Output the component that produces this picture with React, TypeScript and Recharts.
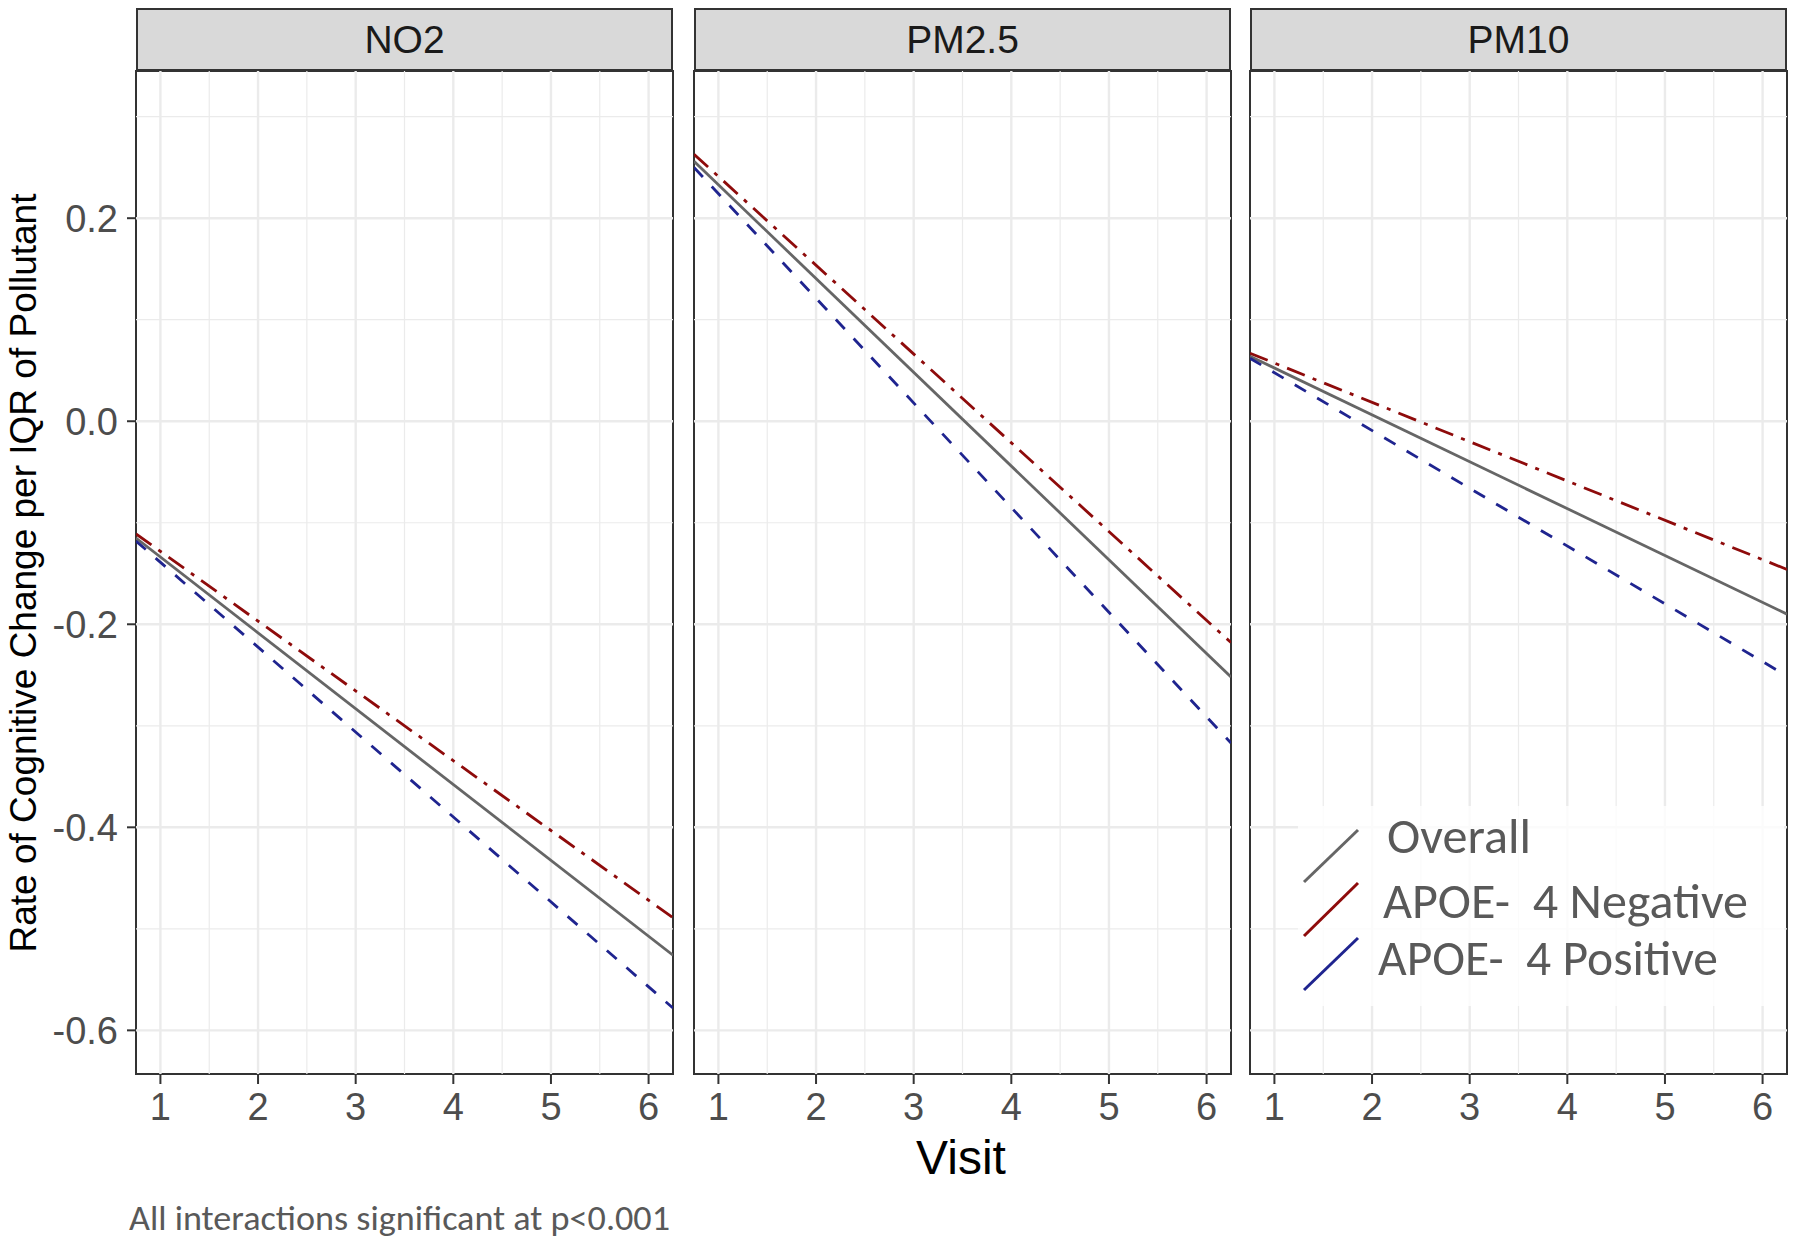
import React from 'react';
import { LineChart, Line, XAxis, YAxis, ReferenceLine, ReferenceArea } from 'recharts';

// x positions where each fitted line meets the panel edges
const visitEdges = [0.75, 6.25];
const visitTicks = [1, 2, 3, 4, 5, 6];
const visitMinor = [1.5, 2.5, 3.5, 4.5, 5.5];
const rateTicks = [-0.6, -0.4, -0.2, 0.0, 0.2];
const rateMinor = [-0.5, -0.3, -0.1, 0.1, 0.3];

const pollutants = ['NO2', 'PM2.5', 'PM10'];

const no2Overall = [-0.115, -0.526];
const no2Negative = [-0.111, -0.489];
const no2Positive = [-0.118, -0.578];

const pm25Overall = [0.256, -0.252];
const pm25Negative = [0.263, -0.218];
const pm25Positive = [0.25, -0.317];

const pm10Overall = [0.064, -0.19];
const pm10Negative = [0.067, -0.146];
const pm10Positive = [0.062, -0.251];

const legendLabels = ['Overall', 'APOE-  4 Negative', 'APOE-  4 Positive'];

const X_DOMAIN: [number, number] = [0.75, 6.25];
const Y_DOMAIN: [number, number] = [-0.643, 0.345];

const PANEL_LEFT = [136, 694, 1250];
const PANEL_W = 537;
const PANEL_TOP = 71;
const PANEL_H = 1003;
const STRIP_TOP = 8;

const GG_FONT = "'Liberation Sans', Arial, Helvetica, sans-serif";
const NOTE_FONT = "Carlito, Lato, 'Open Sans', sans-serif";

const COL_OVERALL = '#666666';
const COL_NEG = '#8E0B0B';
const COL_POS = '#1F248F';
const GRID = '#EBEBEB';

const seriesByPanel = [
  [no2Overall, no2Negative, no2Positive],
  [pm25Overall, pm25Negative, pm25Positive],
  [pm10Overall, pm10Negative, pm10Positive],
];

const fmt = (v: number) => v.toFixed(1);

function Panel({ idx }: { idx: number }) {
  const [ov, neg, pos] = seriesByPanel[idx];
  const data = visitEdges.map((v, i) => ({ visit: v, overall: ov[i], negative: neg[i], positive: pos[i] }));
  const showY = idx === 0;
  const yW = showY ? 136 : 0;
  const left = PANEL_LEFT[idx] - yW - 2;
  return (
    <div style={{ position: 'absolute', left, top: PANEL_TOP - 2 }}>
      <LineChart
        width={2 + yW + PANEL_W + 2}
        height={2 + PANEL_H + 75}
        data={data}
        margin={{ top: 2, right: 2, bottom: 0, left: 2 }}
      >
        <XAxis
          dataKey="visit"
          type="number"
          domain={X_DOMAIN}
          ticks={visitTicks}
          allowDataOverflow
          interval={0}
          height={75}
          axisLine={false}
          tickSize={10}
          tickMargin={9}
          tickLine={{ stroke: '#333333', strokeWidth: 2 }}
          tick={{ fontSize: 38, fill: '#4D4D4D', fontFamily: GG_FONT }}
        />
        <YAxis
          type="number"
          domain={Y_DOMAIN}
          ticks={rateTicks}
          allowDataOverflow
          interval={0}
          hide={!showY}
          width={yW}
          axisLine={false}
          tickSize={9}
          tickMargin={9}
          tickFormatter={fmt}
          tickLine={{ stroke: '#333333', strokeWidth: 2 }}
          tick={{ fontSize: 38, fill: '#4D4D4D', fontFamily: GG_FONT }}
        />
        {rateMinor.map((v) => (
          <ReferenceLine key={'hm' + v} y={v} stroke={GRID} strokeWidth={1.2} />
        ))}
        {visitMinor.map((v) => (
          <ReferenceLine key={'vm' + v} x={v} stroke={GRID} strokeWidth={1.2} />
        ))}
        {rateTicks.map((v) => (
          <ReferenceLine key={'h' + v} y={v} stroke={GRID} strokeWidth={2.4} />
        ))}
        {visitTicks.map((v) => (
          <ReferenceLine key={'v' + v} x={v} stroke={GRID} strokeWidth={2.4} />
        ))}
        <Line dataKey="overall" stroke={COL_OVERALL} strokeWidth={2.8} dot={false} isAnimationActive={false} />
        <Line
          dataKey="negative"
          stroke={COL_NEG}
          strokeWidth={2.8}
          strokeDasharray="19 8.5 4 8.5"
          dot={false}
          isAnimationActive={false}
        />
        <Line
          dataKey="positive"
          stroke={COL_POS}
          strokeWidth={2.8}
          strokeDasharray="13 13"
          dot={false}
          isAnimationActive={false}
        />
        <ReferenceArea
          x1={X_DOMAIN[0]}
          x2={X_DOMAIN[1]}
          y1={Y_DOMAIN[0]}
          y2={Y_DOMAIN[1]}
          fill="none"
          fillOpacity={0}
          stroke="#333333"
          strokeWidth={2}
        />
      </LineChart>
    </div>
  );
}

export default function App() {
  return (
    <div style={{ position: 'absolute', left: 0, top: 0, width: 1800, height: 1243, background: '#fff' }}>
      {pollutants.map((name, i) => (
        <div
          key={name}
          style={{
            position: 'absolute',
            left: PANEL_LEFT[i],
            top: STRIP_TOP,
            width: PANEL_W,
            height: PANEL_TOP - STRIP_TOP,
            background: '#D9D9D9',
            border: '2px solid #333333',
            boxSizing: 'border-box',
            display: 'flex',
            alignItems: 'center',
            justifyContent: 'center',
            fontFamily: GG_FONT,
            fontSize: 39,
            color: '#1A1A1A',
          }}
        >
          {name}
        </div>
      ))}
      {pollutants.map((name, i) => (
        <Panel key={name} idx={i} />
      ))}
      <svg
        width={1800}
        height={1243}
        style={{ position: 'absolute', left: 0, top: 0, pointerEvents: 'none' }}
      >
        <text
          transform="translate(36,573) rotate(-90)"
          textAnchor="middle"
          fontFamily={GG_FONT}
          fontSize={37}
          fill="#000"
        >
          Rate of Cognitive Change per IQR of Pollutant
        </text>
        <text x={961} y={1174} textAnchor="middle" fontFamily={GG_FONT} fontSize={48} fill="#000">
          Visit
        </text>
        <text
          x={129}
          y={1230}
          fontFamily={NOTE_FONT}
          fontSize={34}
          fill="#595959"
          textLength={541}
          lengthAdjust="spacingAndGlyphs"
        >
          All interactions significant at p&lt;0.001
        </text>
        {/* pasted legend */}
        <rect x={1298} y={806} width={486} height={200} fill="#fff" fillOpacity={0.8} />
        <line x1={1304} y1={882} x2={1358} y2={830} stroke={COL_OVERALL} strokeWidth={3} />
        <line x1={1304} y1={936} x2={1358} y2={883} stroke={COL_NEG} strokeWidth={3} />
        <line x1={1304} y1={990} x2={1358} y2={938} stroke={COL_POS} strokeWidth={3} />
        <text
          x={1387}
          y={853}
          fontFamily={NOTE_FONT}
          fontSize={49}
          fill="#595959"
          textLength={144}
          lengthAdjust="spacingAndGlyphs"
        >
          {legendLabels[0]}
        </text>
        <text
          x={1383}
          y={918}
          fontFamily={NOTE_FONT}
          fontSize={49}
          fill="#595959"
          style={{ whiteSpace: 'pre' }}
          textLength={365}
          lengthAdjust="spacingAndGlyphs"
        >
          {legendLabels[1]}
        </text>
        <text
          x={1378}
          y={975}
          fontFamily={NOTE_FONT}
          fontSize={49}
          fill="#595959"
          style={{ whiteSpace: 'pre' }}
          textLength={340}
          lengthAdjust="spacingAndGlyphs"
        >
          {legendLabels[2]}
        </text>
      </svg>
    </div>
  );
}
